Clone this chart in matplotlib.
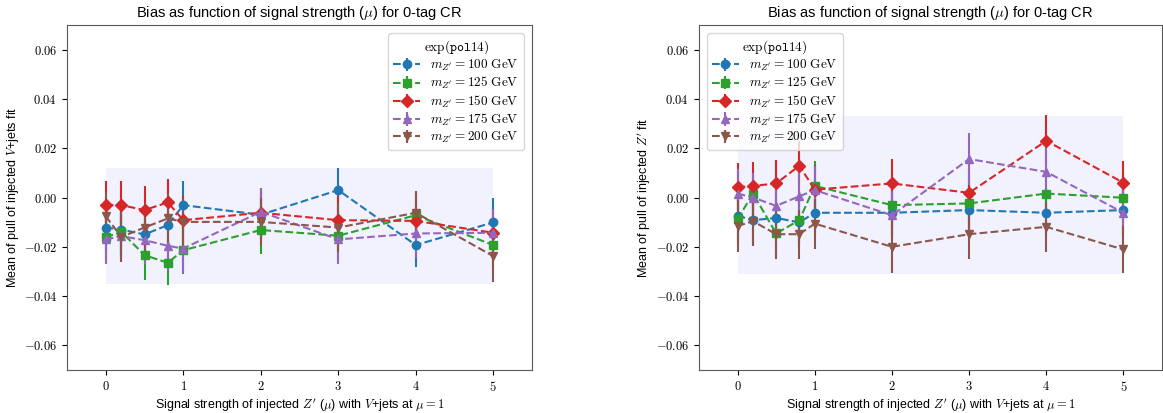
import numpy as np
import matplotlib
matplotlib.use("Agg")
import matplotlib.pyplot as plt
from matplotlib.ticker import FuncFormatter

plt.rcParams['mathtext.fontset'] = 'cm'
plt.rcParams['font.family'] = ['Liberation Sans', 'DejaVu Sans']

# injected signal strengths
mu = [0, 0.2, 0.5, 0.8, 1, 2, 3, 4, 5]
masses = [100, 125, 150, 175, 200]

# left panel: pull of injected V+jets
vjets_mean = {
    100: [-0.0122, -0.0130, -0.0150, -0.0112, -0.0031, -0.0070, 0.0030, -0.0193, -0.0101],
    125: [-0.0162, -0.0139, -0.0234, -0.0265, -0.0214, -0.0132, -0.0155, -0.0072, -0.0193],
    150: [-0.0031, -0.0031, -0.0051, -0.0020, -0.0092, -0.0062, -0.0092, -0.0095, -0.0143],
    175: [-0.0170, -0.0157, -0.0173, -0.0196, -0.0207, -0.0058, -0.0170, -0.0146, -0.0143],
    200: [-0.0076, -0.0160, -0.0122, -0.0085, -0.0099, -0.0099, -0.0122, -0.0062, -0.0238],
}
vjets_err = {
    100: [0.0098, 0.0097, 0.0098, 0.0099, 0.0099, 0.0098, 0.0090, 0.0088, 0.0097],
    125: [0.0099, 0.0098, 0.0099, 0.0092, 0.0098, 0.0099, 0.0098, 0.0097, 0.0098],
    150: [0.0099, 0.0099, 0.0098, 0.0097, 0.0098, 0.0099, 0.0098, 0.0097, 0.0098],
    175: [0.0100, 0.0099, 0.0098, 0.0099, 0.0098, 0.0095, 0.0099, 0.0098, 0.0097],
    200: [0.0098, 0.0101, 0.0099, 0.0098, 0.0098, 0.0099, 0.0098, 0.0089, 0.0104],
}

# right panel: pull of injected Z'
zp_mean = {
    100: [-0.0074, -0.0092, -0.0083, -0.0101, -0.0062, -0.0062, -0.0051, -0.0062, -0.0051],
    125: [-0.0088, 0.0016, -0.0146, -0.0092, 0.0047, -0.0031, -0.0024, 0.0016, -0.0001],
    150: [0.0041, 0.0047, 0.0057, 0.0129, 0.0032, 0.0057, 0.0019, 0.0230, 0.0060],
    175: [0.0016, 0.0000, -0.0034, 0.0005, 0.0030, -0.0072, 0.0156, 0.0104, -0.0062],
    200: [-0.0116, -0.0096, -0.0149, -0.0149, -0.0106, -0.0200, -0.0149, -0.0119, -0.0211],
}
zp_err = {
    100: [0.0098, 0.0099, 0.0098, 0.0099, 0.0098, 0.0099, 0.0098, 0.0099, 0.0098],
    125: [0.0099, 0.0098, 0.0099, 0.0098, 0.0101, 0.0099, 0.0098, 0.0099, 0.0098],
    150: [0.0097, 0.0098, 0.0097, 0.0099, 0.0098, 0.0099, 0.0098, 0.0104, 0.0088],
    175: [0.0099, 0.0098, 0.0099, 0.0098, 0.0099, 0.0098, 0.0104, 0.0099, 0.0098],
    200: [0.0104, 0.0100, 0.0101, 0.0100, 0.0101, 0.0108, 0.0100, 0.0101, 0.0097],
}

# shaded bands
vjets_band = (-0.035, 0.012)
zp_band = (-0.031, 0.033)

colors = ['#1f77b4', '#2ca02c', '#d62728', '#9467bd', '#8c564b']
markers = ['o', 's', 'D', '^', 'v']

fig = plt.figure(figsize=(11.63, 4.13), dpi=100)
ax1 = fig.add_axes([67 / 1163, 43 / 413, 465 / 1163, 345 / 413])
ax2 = fig.add_axes([699 / 1163, 43 / 413, 463 / 1163, 345 / 413])


def draw(ax, means, errs, band, ylabel, loc):
    ax.fill_between([mu[0], mu[-1]], band[0], band[1], color='blue', alpha=0.05,
                    linewidth=0, zorder=0)
    for m, c, mk in zip(masses, colors, markers):
        ax.errorbar(mu, means[m], yerr=errs[m], color=c, marker=mk, ls='--',
                    markersize=6, elinewidth=1.5, lw=1.5,
                    label=r'$m_{Z^{\prime}} = %d\ \mathrm{GeV}$' % m)
    ax.set_xlim(-0.5, 5.5)
    ax.set_ylim(-0.07, 0.07)
    ax.set_xticks([0, 1, 2, 3, 4, 5])
    ax.set_yticks([-0.06, -0.04, -0.02, 0.0, 0.02, 0.04, 0.06])
    ax.xaxis.set_major_formatter(FuncFormatter(lambda v, p: r'$%d$' % v))
    ax.yaxis.set_major_formatter(FuncFormatter(lambda v, p: r'$%.2f$' % v))
    ax.tick_params(labelsize=9, length=3.5)
    for s in ax.spines.values():
        s.set_color('0.35')
    ax.set_title(r'Bias as function of signal strength ($\mu$) for 0-tag CR', fontsize=10.5)
    ax.set_xlabel(r"Signal strength of injected $Z'$ ($\mu$) with $V$+jets at $\mu=1$",
                  fontsize=9, labelpad=2)
    ax.set_ylabel(ylabel, fontsize=9, labelpad=2)
    ax.legend(loc=loc, title=r'$\mathrm{exp}(\mathtt{pol14})$', fontsize=9.5,
              title_fontsize=9.5, handlelength=2.0, labelspacing=0.15,
              borderaxespad=0.6)


draw(ax1, vjets_mean, vjets_err, vjets_band,
     r'Mean of pull of injected $V$+jets fit', 'upper right')
draw(ax2, zp_mean, zp_err, zp_band,
     r"Mean of pull of injected $Z'$ fit", 'upper left')

fig.savefig('out.png', dpi=100)
